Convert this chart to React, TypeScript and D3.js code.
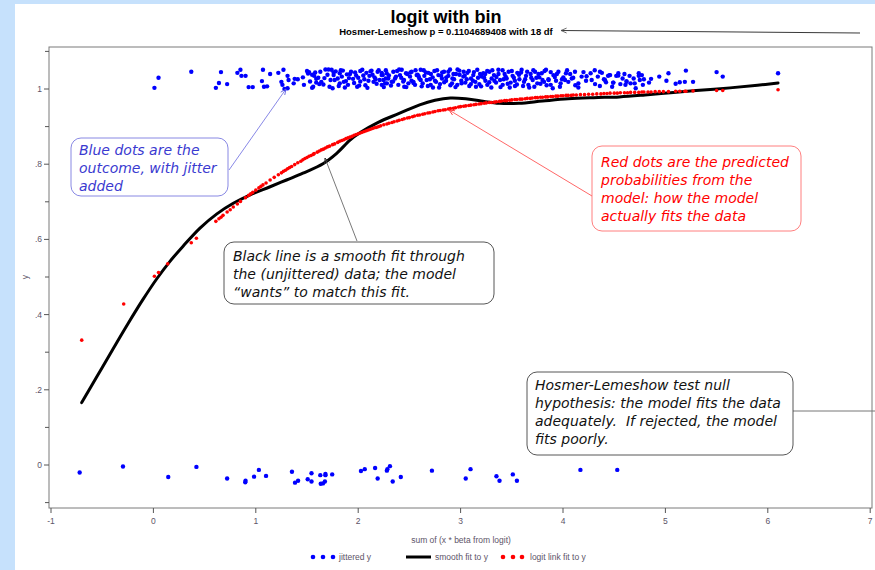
import React from 'react';
import * as d3 from 'd3';

// ---- data ----
const smoothX = [-0.70, -0.55, -0.40, -0.25, -0.10, 0.03, 0.16, 0.29, 0.455, 0.62, 0.78, 0.94, 1.14, 1.30, 1.46, 1.66, 1.79, 1.92, 2.02, 2.20, 2.40, 2.60, 2.75, 2.90, 3.05, 3.20, 3.38, 3.57, 3.80, 4.05, 4.30, 4.55, 4.80, 5.05, 5.30, 5.63, 5.90, 6.10];
const smoothY = [0.166, 0.236, 0.306, 0.375, 0.441, 0.494, 0.541, 0.582, 0.630, 0.668, 0.696, 0.718, 0.740, 0.758, 0.776, 0.802, 0.829, 0.864, 0.884, 0.912, 0.935, 0.958, 0.970, 0.976, 0.974, 0.968, 0.962, 0.962, 0.968, 0.974, 0.977, 0.979, 0.984, 0.990, 0.996, 1.003, 1.010, 1.016];

const predX = [-0.70, -0.29, 0.01, 0.05, 0.14, 0.37, 0.42, 0.61, 0.64, 0.66, 0.72, 0.82, 0.85, 0.90, 0.93, 0.97, 1.03, 1.07, 1.10, 1.14, 1.22, 1.27, 1.31, 1.35, 1.38, 1.41, 1.46, 1.50, 1.54, 1.57, 1.60, 1.64, 1.68, 1.72, 1.75, 1.80, 1.84, 1.88, 1.92, 1.96, 2.00, 2.04, 2.08, 2.12, 2.16, 2.20, 2.25, 2.30, 2.35, 2.40, 2.45, 2.50, 2.55, 2.60, 2.65, 2.70, 2.75, 2.80, 2.85, 2.90, 2.95, 3.00, 3.05, 3.10, 3.15, 3.20, 3.25, 3.30, 3.35, 3.40, 3.45, 3.50, 3.55, 3.60, 3.65, 3.70, 3.75, 3.80, 3.85, 3.90, 3.95, 4.00, 4.05, 4.10, 4.17, 4.25, 4.33, 4.40, 4.46, 4.53, 4.60, 4.66, 4.74, 4.79, 4.86, 4.94, 5.03, 5.10, 5.19, 5.27, 5.50, 5.56, 6.10,
  0.68, 0.75, 0.78, 0.95, 1.00, 1.05, 1.18, 1.25, 1.29, 1.33, 1.44, 1.48, 1.52, 1.56, 1.62, 1.66, 1.70, 1.77, 1.82, 1.86, 1.90, 1.94, 1.98, 2.02, 2.06, 2.10, 2.14, 2.18, 2.22, 2.28, 2.33, 2.38, 2.43, 2.48, 2.53, 2.58, 2.63, 2.68, 2.73, 2.78, 2.83, 2.88, 2.93, 2.98, 3.03, 3.08, 3.13, 3.18, 3.23, 3.28, 3.33, 3.38, 3.43, 3.48, 3.53, 3.58, 3.63, 3.68, 3.73, 3.78, 3.83, 3.88, 3.93, 3.98, 4.03, 4.08, 4.13, 4.21, 4.29, 4.37, 4.43, 4.50, 4.56, 4.63, 4.70, 4.77, 4.83, 4.90, 4.98, 5.14, 5.20];
const predY = [0.332, 0.428, 0.502, 0.512, 0.535, 0.591, 0.603, 0.648, 0.655, 0.659, 0.673, 0.694, 0.701, 0.711, 0.717, 0.725, 0.737, 0.745, 0.750, 0.758, 0.772, 0.781, 0.788, 0.794, 0.799, 0.804, 0.812, 0.818, 0.823, 0.828, 0.832, 0.838, 0.843, 0.848, 0.852, 0.858, 0.863, 0.868, 0.872, 0.877, 0.881, 0.885, 0.889, 0.893, 0.897, 0.900, 0.905, 0.909, 0.913, 0.917, 0.921, 0.924, 0.928, 0.931, 0.934, 0.937, 0.940, 0.943, 0.945, 0.948, 0.950, 0.953, 0.955, 0.957, 0.959, 0.961, 0.963, 0.964, 0.966, 0.968, 0.969, 0.971, 0.972, 0.973, 0.975, 0.976, 0.977, 0.978, 0.979, 0.980, 0.981, 0.982, 0.983, 0.984, 0.985, 0.986, 0.987, 0.988, 0.989, 0.989, 0.990, 0.991, 0.991, 0.992, 0.992, 0.993, 0.993, 0.994, 0.994, 0.995, 0.996, 0.996, 0.998,
  0.664, 0.679, 0.686, 0.721, 0.731, 0.741, 0.765, 0.777, 0.784, 0.791, 0.808, 0.815, 0.821, 0.826, 0.835, 0.840, 0.846, 0.854, 0.861, 0.865, 0.870, 0.874, 0.879, 0.883, 0.887, 0.891, 0.895, 0.898, 0.902, 0.907, 0.911, 0.915, 0.919, 0.923, 0.926, 0.930, 0.933, 0.936, 0.939, 0.942, 0.944, 0.947, 0.949, 0.952, 0.954, 0.956, 0.958, 0.960, 0.962, 0.964, 0.965, 0.967, 0.969, 0.970, 0.972, 0.973, 0.974, 0.975, 0.977, 0.978, 0.979, 0.980, 0.981, 0.982, 0.983, 0.983, 0.984, 0.985, 0.986, 0.987, 0.988, 0.989, 0.990, 0.990, 0.991, 0.992, 0.992, 0.993, 0.993, 0.994, 0.994];

const topX = [0.01, 0.05, 0.37, 0.61, 0.64, 0.66, 0.72, 0.82, 0.85, 0.86, 0.90, 0.93, 0.97, 1.07, 1.06, 1.08, 1.11, 1.14, 1.22, 1.27, 1.25, 1.26, 1.28, 1.31, 1.31, 1.32, 1.37, 1.38, 1.41, 1.46, 1.47, 1.50, 1.52, 1.55, 1.56, 1.57, 1.59, 1.59, 1.62, 1.64, 1.68, 1.71, 1.74, 1.75, 1.76, 1.77, 1.80, 1.82, 1.82, 1.85, 1.86, 1.89, 1.90, 1.93, 1.95, 1.98, 1.99, 2.02, 2.02, 2.06, 2.08, 2.11, 2.13, 2.15, 2.16, 2.19, 2.21, 2.23, 2.24, 2.27, 2.28,
  2.229, 2.246, 2.262, 2.278, 2.294, 2.327, 2.343, 2.369, 2.392, 2.408, 2.425, 2.447, 2.467, 2.490, 2.506, 2.522, 2.539, 2.555, 2.571, 2.597, 2.610, 2.630, 2.646, 2.669, 2.685, 2.708, 2.727, 2.744, 2.760, 2.783, 2.799, 2.818, 2.838, 2.858, 2.880, 2.897, 2.916, 2.936, 2.955, 2.968, 2.988, 3.007, 3.027, 3.046, 3.066, 3.085, 3.102, 3.124, 3.144, 3.163, 3.183, 3.206, 3.222, 3.242, 3.261, 3.281, 3.303, 3.326, 3.346, 3.369, 3.385, 3.411, 3.430, 3.450, 3.469, 3.489, 3.508, 3.531, 3.554, 3.574, 3.596, 3.619, 3.639, 3.662, 3.684, 3.704, 3.727, 3.749, 3.769, 3.792, 3.815, 3.834, 3.857, 3.880, 3.906, 3.932, 3.955, 3.977, 4.003, 4.029, 4.052, 4.085, 4.117, 4.150, 4.182, 4.225, 4.270, 4.313, 4.361, 4.400, 4.453, 4.492, 4.540, 4.582, 4.621,
  1.53, 1.58, 1.61, 1.66, 1.70, 1.73, 1.78, 1.81, 1.84, 1.88, 1.92, 1.96, 2.00, 2.04, 2.07, 2.10, 2.14, 2.18, 2.20, 2.25, 2.30, 2.34, 2.38, 2.42, 2.45, 2.48, 2.52, 2.56, 2.59, 2.62, 2.66, 2.70, 2.73, 2.77, 2.81, 2.84, 2.88, 2.92, 2.95, 2.99, 3.03, 3.06, 3.10, 3.13, 3.17, 3.20, 3.24, 3.28, 3.31, 3.35, 3.39, 3.42, 3.46, 3.50, 3.53, 3.57, 3.61, 3.65, 3.69, 3.72, 3.76, 3.80, 3.84, 3.88, 3.92, 3.97, 4.02, 4.07, 4.12, 4.20, 4.28, 4.34,
  1.51, 1.55, 1.63, 1.67, 1.72, 1.76, 1.83, 1.87, 1.91, 1.97, 2.01, 2.05, 2.09, 2.12, 2.17, 2.23, 2.27, 2.32, 2.36, 2.40, 2.44, 2.47, 2.51, 2.54, 2.58, 2.61, 2.64, 2.68, 2.71, 2.75, 2.79, 2.82, 2.86, 2.90, 2.93, 2.97, 3.01, 3.04, 3.08, 3.12, 3.15, 3.19, 3.23, 3.26, 3.30, 3.33, 3.37, 3.41, 3.44, 3.48, 3.52, 3.55, 3.59, 3.63, 3.67, 3.71, 3.74, 3.78, 3.82, 3.86, 3.90, 3.94, 3.99, 4.04, 4.10, 4.15, 4.23, 4.31, 4.36,
  4.38, 4.41, 4.42, 4.44, 4.46, 4.48, 4.49, 4.52, 4.54, 4.56, 4.60, 4.61, 4.62, 4.65, 4.66, 4.69, 4.70, 4.71, 4.74, 4.74, 4.75, 4.77, 4.78, 4.79, 4.84, 4.86, 4.94, 5.01, 5.03, 5.10, 5.14, 5.19, 5.20, 5.27, 5.50, 5.56, 6.10];
const topY = [1.003, 1.030, 1.046, 1.003, 1.016, 1.045, 1.013, 1.043, 1.051, 1.035, 1.035, 1.005, 1.005, 1.051, 1.021, 1.006, 1.007, 1.040, 1.043, 1.051, 1.019, 1.011, 1.000, 1.002, 1.035, 1.024, 1.015, 1.027, 1.026, 1.031, 1.011, 1.048, 1.045, 1.038, 1.006, 1.035, 1.017, 1.027, 1.013, 1.019, 1.052, 1.052, 1.051, 1.002, 1.037, 1.024, 1.028, 1.042, 1.015, 1.049, 1.019, 1.039, 1.011, 1.046, 1.027, 1.036, 1.006, 1.048, 1.020, 1.026, 1.043, 1.035, 1.049, 1.019, 1.031, 1.046, 1.024, 1.011, 1.037, 1.028, 1.015,
  1.037, 1.024, 1.015, 1.042, 1.028, 1.019, 1.046, 1.033, 1.011, 1.037, 1.051, 1.024, 1.042, 1.015, 1.033, 1.046, 1.019, 1.011, 1.037, 1.028, 1.051, 1.015, 1.035, 1.024, 1.043, 1.011, 1.031, 1.048, 1.019, 1.037, 1.013, 1.028, 1.046, 1.022, 1.035, 1.052, 1.015, 1.026, 1.040, 1.011, 1.049, 1.022, 1.033, 1.017, 1.043, 1.008, 1.028, 1.037, 1.019, 1.051, 1.013, 1.033, 1.042, 1.022, 1.011, 1.046, 1.028, 1.037, 1.017, 1.051, 1.024, 1.011, 1.040, 1.028, 1.046, 1.017, 1.035, 1.008, 1.043, 1.026, 1.051, 1.019, 1.035, 1.011, 1.040, 1.024, 1.046, 1.015, 1.031, 1.042, 1.019, 1.051, 1.026, 1.011, 1.037, 1.022, 1.046, 1.015, 1.031, 1.042, 1.019, 1.028, 1.046, 1.015, 1.033, 1.022, 1.042, 1.013, 1.046, 1.026, 1.037, 1.017, 1.042, 1.028, 1.019,
  1.020, 1.044, 1.030, 1.012, 1.038, 1.024, 1.047, 1.008, 1.033, 1.021, 1.040, 1.016, 1.030, 1.051, 1.010, 1.022, 1.038, 1.014, 1.050, 1.005, 1.036, 1.020, 1.048, 1.030, 1.006, 1.040, 1.022, 1.050, 1.034, 1.007, 1.044, 1.026, 1.004, 1.050, 1.035, 1.018, 1.046, 1.028, 1.005, 1.038, 1.046, 1.026, 1.013, 1.045, 1.030, 1.007, 1.040, 1.018, 1.050, 1.032, 1.005, 1.026, 1.014, 1.048, 1.022, 1.038, 1.008, 1.046, 1.030, 1.006, 1.040, 1.024, 1.010, 1.045, 1.032, 1.006, 1.024, 1.040, 1.010, 1.045, 1.024, 1.033,
  1.041, 1.003, 1.046, 1.029, 1.006, 1.044, 1.050, 1.004, 1.029, 1.044, 1.009, 1.036, 1.003, 1.047, 1.026, 1.043, 1.050, 1.009, 1.028, 1.052, 1.020, 1.005, 1.044, 1.016, 1.038, 1.024, 1.050, 1.008, 1.040, 1.022, 1.004, 1.044, 1.031, 1.010, 1.040, 1.052, 1.015, 1.035, 1.048, 1.022, 1.006, 1.040, 1.030, 1.048, 1.004, 1.022, 1.040, 1.050, 1.033, 1.004, 1.030, 1.012, 1.044, 1.026, 1.004, 1.050, 1.030, 1.014, 1.048, 1.024, 1.002, 1.040, 1.026, 1.050, 1.030, 1.004, 1.034, 1.050, 1.008,
  1.043, 1.024, 1.018, 1.035, 1.037, 1.006, 1.017, 1.035, 1.036, 1.013, 1.040, 1.011, 1.021, 1.035, 1.015, 1.028, 1.015, 1.002, 1.042, 1.035, 1.024, 1.037, 1.011, 1.026, 1.017, 1.027, 1.033, 1.022, 1.042, 1.014, 1.018, 1.019, 1.049, 1.019, 1.045, 1.033, 1.042];

const bottomX = [-0.72, -0.297, 0.145, 0.42, 0.72, 0.897, 0.90, 0.983, 1.03, 1.10, 1.353, 1.383, 1.413, 1.507, 1.544, 1.544, 1.63, 1.634, 1.656, 1.68, 1.68, 1.675, 1.746, 2.027, 2.064, 2.165, 2.19, 2.28, 2.285, 2.31, 2.337, 2.416, 2.72, 3.05, 3.097, 3.35, 3.38, 3.51, 3.55, 4.17, 4.53];
const bottomY = [-0.020, -0.004, -0.032, -0.005, -0.036, -0.046, -0.042, -0.031, -0.013, -0.029, -0.018, -0.047, -0.042, -0.038, -0.022, -0.044, -0.027, -0.050, -0.049, -0.024, -0.027, -0.044, -0.025, -0.016, -0.011, -0.008, -0.036, -0.015, -0.011, -0.003, -0.044, -0.032, -0.015, -0.036, -0.011, -0.030, -0.042, -0.025, -0.042, -0.013, -0.013];

const xTicks = [-1, 0, 1, 2, 3, 4, 5, 6, 7];
const yMajor = [0, 0.2, 0.4, 0.6, 0.8, 1];
const yMajorLabels = ['0', '.2', '.4', '.6', '.8', '1'];
const yMinor = [-0.1, 0.1, 0.3, 0.5, 0.7, 0.9, 1.1];

const title = 'logit with bin';
const subtitle = 'Hosmer-Lemeshow p = 0.1104689408 with 18 df';
const xTitle = 'sum of (x * beta from logit)';
const yTitle = 'y';
const legendLabels = ['jittered y', 'smooth fit to y', 'logit link fit to y'];

const noteBlue = ['Blue dots are the', 'outcome, with jitter', 'added'];
const noteRed = ['Red dots are the predicted', 'probabilities from the', 'model: how the model', 'actually fits the data'];
const noteBlack = ['Black line is a smooth fit through', 'the (unjittered) data; the model', '\u201cwants\u201d to match this fit.'];
const noteHL = ['Hosmer-Lemeshow test null', 'hypothesis: the model fits the data', 'adequately.  If rejected, the model', 'fits poorly.'];

export default function App() {
  const W = 875, H = 570;
  const x = d3.scaleLinear().domain([-1, 7]).range([51, 870.2]);
  const y = d3.scaleLinear().domain([0, 1]).range([465, 89]);
  const plotL = 49, plotR = 872, plotT = 47, plotB = 508;
  const line = d3.line<number>()
    .x((_, i) => x(smoothX[i]))
    .y((_, i) => y(smoothY[i]))
    .curve(d3.curveCatmullRom.alpha(0.5));
  const tickCol = '#5d5468';
  const noteFont = '"DejaVu Sans", Verdana, sans-serif';

  const Note = ({ x0, y0, w, h, lines, color, stroke, tx, ty }: any) => (
    <g>
      <rect x={x0} y={y0} width={w} height={h} rx={10} ry={10} fill="white" stroke={stroke} strokeWidth={0.9} />
      <text fontFamily={noteFont} fontStyle="italic" fontSize={14} fill={color}>
        {lines.map((l: string, i: number) => (
          <tspan key={i} x={tx} y={ty + i * 18} style={{ whiteSpace: 'pre' }}>{l}</tspan>
        ))}
      </text>
    </g>
  );

  return (
    <div style={{ position: 'absolute', left: 0, top: 0 }}>
      <svg width={W} height={H} viewBox={`0 0 ${W} ${H}`} style={{ display: 'block' }}>
        <defs>
          {['blue', 'red', 'black', 'grey'].map((c) => (
            <marker key={c} id={`arr-${c}`} viewBox="0 0 10 10" refX={9} refY={5} markerWidth={7} markerHeight={7} orient="auto" markerUnits="userSpaceOnUse">
              <path d="M1,1.5 L9,5 L1,8.5" fill="none" stroke={c === 'blue' ? '#6060e0' : c === 'red' ? '#ff3030' : c === 'black' ? '#333' : '#555'} strokeWidth={1.2} />
            </marker>
          ))}
        </defs>
        <rect x={0} y={0} width={W} height={H} fill="#c6e1fc" />
        <rect x={15} y={4} width={W - 15} height={H - 4} fill="white" />

        {/* titles */}
        <text x={446} y={23} textAnchor="middle" fontFamily='"Liberation Sans", Arial, sans-serif' fontWeight="bold" fontSize={18} fill="#000">{title}</text>
        <text x={446} y={35} textAnchor="middle" fontFamily='"Liberation Sans", Arial, sans-serif' fontWeight="bold" fontSize={9.5} fill="#000">{subtitle}</text>
        <line x1={860} y1={33} x2={561} y2={30.5} stroke="#222" strokeWidth={0.9} markerEnd="url(#arr-grey)" />

        {/* plot frame */}
        <rect x={plotL} y={plotT} width={plotR - plotL} height={plotB - plotT} fill="white" stroke="#7a7a7a" strokeWidth={1} />

        {/* y axis ticks */}
        {yMajor.map((v, i) => (
          <g key={`ym${i}`}>
            <line x1={plotL - 5} x2={plotL} y1={y(v)} y2={y(v)} stroke="#555" strokeWidth={1} />
            <text x={42} y={y(v) + 3} textAnchor="end" fontFamily='"Liberation Sans", Arial, sans-serif' fontSize={8.5} fill={tickCol}>{yMajorLabels[i]}</text>
          </g>
        ))}
        {yMinor.map((v, i) => (
          <line key={`yn${i}`} x1={plotL - 4} x2={plotL} y1={y(v)} y2={y(v)} stroke="#555" strokeWidth={1} />
        ))}
        <text transform={`translate(28,277) rotate(-90)`} textAnchor="middle" fontFamily='"Liberation Sans", Arial, sans-serif' fontSize={8.5} fill={tickCol}>{yTitle}</text>

        {/* x axis ticks */}
        {xTicks.map((v) => (
          <g key={`xt${v}`}>
            <line x1={x(v)} x2={x(v)} y1={plotB} y2={plotB + 5} stroke="#555" strokeWidth={1} />
            <text x={x(v)} y={524} textAnchor="middle" fontFamily='"Liberation Sans", Arial, sans-serif' fontSize={8.5} fill={tickCol}>{v}</text>
          </g>
        ))}
        <text x={461} y={543} textAnchor="middle" fontFamily='"Liberation Sans", Arial, sans-serif' fontSize={8.5} fill={tickCol}>{xTitle}</text>

        {/* blue jittered dots */}
        {topX.map((v, i) => (
          <circle key={`t${i}`} cx={x(v)} cy={y(topY[i])} r={2.2} fill="#0000ff" />
        ))}
        {bottomX.map((v, i) => (
          <circle key={`b${i}`} cx={x(v)} cy={y(bottomY[i])} r={2.2} fill="#0000ff" />
        ))}

        {/* smooth line */}
        <path d={line(smoothX) || ''} fill="none" stroke="#000" strokeWidth={3} strokeLinejoin="round" strokeLinecap="round" />

        {/* predicted red dots */}
        {predX.map((v, i) => (
          <circle key={`p${i}`} cx={x(v)} cy={y(predY[i])} r={1.8} fill="#ff0000" />
        ))}

        {/* annotations */}
        <line x1={229} y1={170} x2={286} y2={89} stroke="#6a6ae0" strokeWidth={0.8} markerEnd="url(#arr-blue)" />
        <Note x0={71} y0={138} w={157} h={58} lines={noteBlue} color="#3a3ad0" stroke="#7a7ae0" tx={79} ty={155} />

        <line x1={592} y1={196} x2={449} y2={110} stroke="#ff4040" strokeWidth={0.8} markerEnd="url(#arr-red)" />
        <Note x0={592} y0={146} w={209} h={85} lines={noteRed} color="#ff0000" stroke="#ff7070" tx={601} ty={167} />

        <line x1={357} y1={241} x2={325} y2={158} stroke="#555" strokeWidth={0.8} markerEnd="url(#arr-black)" />
        <Note x0={224} y0={242} w={270} h={62} lines={noteBlack} color="#111" stroke="#444" tx={233} ty={261} />

        <line x1={793} y1={411} x2={875} y2={411} stroke="#777" strokeWidth={1} />
        <Note x0={527} y0={372} w={266} h={83} lines={noteHL} color="#111" stroke="#444" tx={535} ty={390} />

        {/* legend */}
        {[313, 323, 333].map((cx) => <circle key={`lb${cx}`} cx={cx} cy={557} r={2.3} fill="#0000ff" />)}
        <text x={339} y={560} fontFamily='"Liberation Sans", Arial, sans-serif' fontSize={8.5} fill={tickCol}>{legendLabels[0]}</text>
        <line x1={406} x2={431} y1={557} y2={557} stroke="#000" strokeWidth={3} />
        <text x={435} y={560} fontFamily='"Liberation Sans", Arial, sans-serif' fontSize={8.5} fill={tickCol}>{legendLabels[1]}</text>
        {[503, 513, 522].map((cx) => <circle key={`lr${cx}`} cx={cx} cy={557} r={2.3} fill="#ff0000" />)}
        <text x={530} y={560} fontFamily='"Liberation Sans", Arial, sans-serif' fontSize={8.5} fill={tickCol}>{legendLabels[2]}</text>
      </svg>
    </div>
  );
}
